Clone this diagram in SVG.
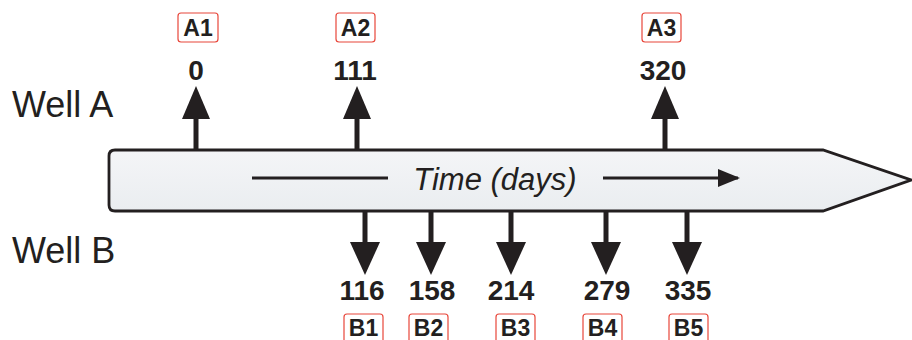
<svg xmlns="http://www.w3.org/2000/svg" width="912" height="340" viewBox="0 0 912 340">
  <defs>
    <linearGradient id="barFill" x1="0" y1="0" x2="0" y2="1">
      <stop offset="0" stop-color="#f4f5f7"/>
      <stop offset="1" stop-color="#eaedf0"/>
    </linearGradient>
    <marker id="smallHead" viewBox="0 0 22 18" refX="20" refY="9" markerWidth="22" markerHeight="18" markerUnits="userSpaceOnUse" orient="auto">
      <path d="M0,0 L22,9 L0,18 Z" fill="#231f20"/>
    </marker>
  </defs>
  <style>
    .side { font-family: "Liberation Sans", Arial, sans-serif; font-size: 36px; fill: #231f20; }
    .val { font-family: "Liberation Sans", Arial, sans-serif; font-size: 28px; font-weight: bold; fill: #231f20; text-anchor: middle; }
    .tag { font-family: "Liberation Sans", Arial, sans-serif; font-size: 23px; font-weight: bold; fill: #231f20; text-anchor: middle; }
    .tagbox { fill: #ffffff; stroke: #e8463a; stroke-width: 1.2; }
    .shaft { stroke: #231f20; stroke-width: 5; fill: none; }
    .head { fill: #231f20; }
    .axis { stroke: #231f20; stroke-width: 3; fill: none; }
  </style>

  <!-- row captions -->
  <text class="side" x="12" y="117">Well A</text>
  <text class="side" x="12" y="263">Well B</text>

  <!-- time bar -->
  <g id="timebar">
    <path d="M115,150 L823,150 L911,180 L823,211 L115,211 Q109,211 109,205 L109,156 Q109,150 115,150 Z" fill="url(#barFill)" stroke="#231f20" stroke-width="2.8" stroke-linejoin="miter"/>
    <line class="axis" x1="252" y1="178" x2="388" y2="178"/>
    <line class="axis" x1="603" y1="178" x2="738" y2="178" marker-end="url(#smallHead)"/>
    <text x="495" y="190" font-family="'Liberation Sans', Arial, sans-serif" font-size="31" font-style="italic" fill="#231f20" text-anchor="middle">Time (days)</text>
  </g>

  <!-- sampling event arrows -->
  <g id="connectors">
    <!-- well A (upward) -->
    <line class="shaft" x1="196" y1="150" x2="196" y2="115"/>
    <path class="head" d="M196,86 L210,119 L182,119 Z"/>
    <line class="shaft" x1="357" y1="150" x2="357" y2="115"/>
    <path class="head" d="M357,86 L371,119 L343,119 Z"/>
    <line class="shaft" x1="665" y1="150" x2="665" y2="115"/>
    <path class="head" d="M665,86 L679,119 L651,119 Z"/>

    <!-- well B (downward) -->
    <line class="shaft" x1="365" y1="211" x2="365" y2="246"/>
    <path class="head" d="M365,275 L380,242 L350,242 Z"/>
    <line class="shaft" x1="431" y1="211" x2="431" y2="246"/>
    <path class="head" d="M431,275 L446,242 L416,242 Z"/>
    <line class="shaft" x1="511" y1="211" x2="511" y2="246"/>
    <path class="head" d="M511,275 L526,242 L496,242 Z"/>
    <line class="shaft" x1="606" y1="211" x2="606" y2="246"/>
    <path class="head" d="M606,275 L621,242 L591,242 Z"/>
    <line class="shaft" x1="687" y1="211" x2="687" y2="246"/>
    <path class="head" d="M687,275 L702,242 L672,242 Z"/>
  </g>

  <!-- well A nodes -->
  <g id="A1">
    <rect class="tagbox" x="178" y="13" width="40" height="29" rx="3"/>
    <text class="tag" x="198" y="36">A1</text>
    <text class="val" x="196" y="80">0</text>
  </g>
  <g id="A2">
    <rect class="tagbox" x="336" y="13" width="39" height="29" rx="3"/>
    <text class="tag" x="355.5" y="36">A2</text>
    <text class="val" x="355" y="80">111</text>
  </g>
  <g id="A3">
    <rect class="tagbox" x="642" y="13" width="39" height="29" rx="3"/>
    <text class="tag" x="661.5" y="36">A3</text>
    <text class="val" x="663" y="80">320</text>
  </g>

  <!-- well B nodes -->
  <g id="B1">
    <text class="val" x="362" y="300">116</text>
    <rect class="tagbox" x="344" y="314" width="39" height="29" rx="3"/>
    <text class="tag" x="363.5" y="336">B1</text>
  </g>
  <g id="B2">
    <text class="val" x="432" y="300">158</text>
    <rect class="tagbox" x="409" y="314" width="39" height="29" rx="3"/>
    <text class="tag" x="428.5" y="336">B2</text>
  </g>
  <g id="B3">
    <text class="val" x="511" y="300">214</text>
    <rect class="tagbox" x="496" y="314" width="39" height="29" rx="3"/>
    <text class="tag" x="515.5" y="336">B3</text>
  </g>
  <g id="B4">
    <text class="val" x="607" y="300">279</text>
    <rect class="tagbox" x="583" y="314" width="39" height="29" rx="3"/>
    <text class="tag" x="602.5" y="336">B4</text>
  </g>
  <g id="B5">
    <text class="val" x="688" y="300">335</text>
    <rect class="tagbox" x="669" y="314" width="39" height="29" rx="3"/>
    <text class="tag" x="688.5" y="336">B5</text>
  </g>
</svg>
